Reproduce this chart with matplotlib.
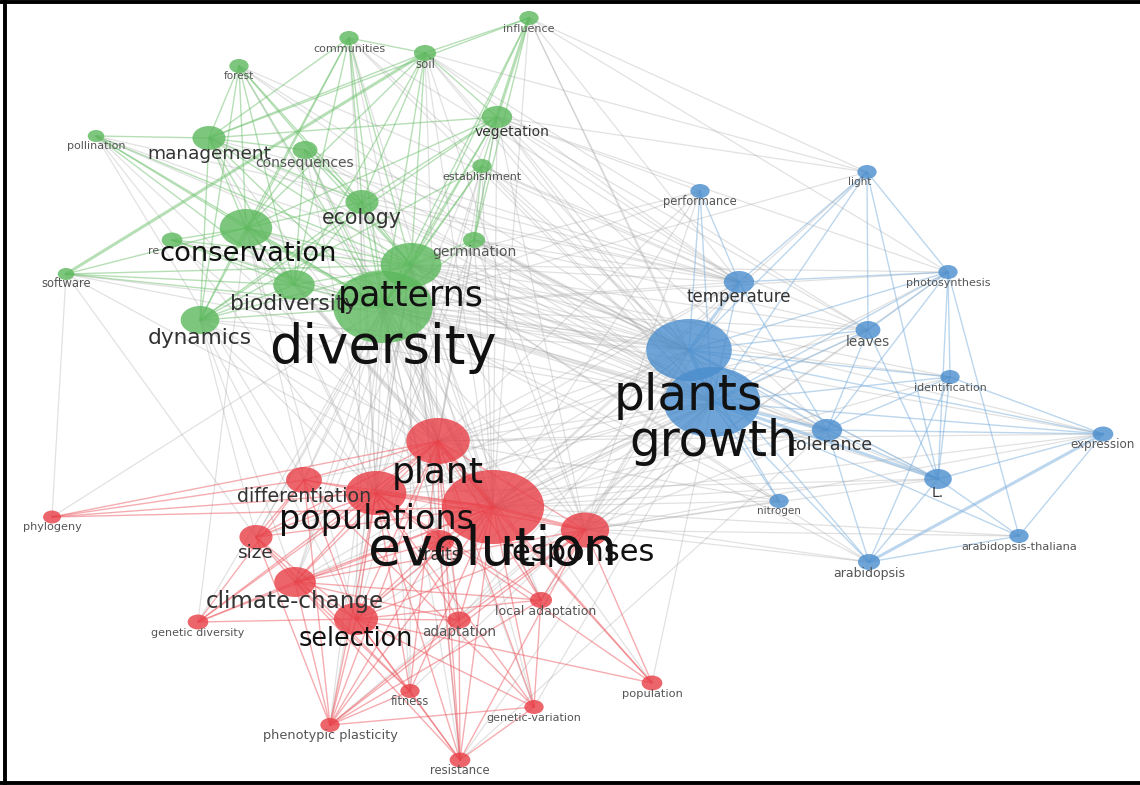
import math
import matplotlib
matplotlib.use("Agg")
import matplotlib.pyplot as plt
from matplotlib.patches import Ellipse
from matplotlib.lines import Line2D
from matplotlib.transforms import Bbox, TransformedBbox

# Keyword co-occurrence map: keyword, cluster, map position, occurrences
green_terms = ["influence", "communities", "soil", "forest", "vegetation", "pollination",
               "management", "consequences", "establishment", "ecology", "conservation",
               "research", "germination", "software", "patterns", "biodiversity",
               "diversity", "dynamics"]
green_x = [529, 349, 425, 239, 497, 96, 209, 305, 482, 362, 246, 172, 474, 66, 411, 294, 383, 200]
green_y = [18, 38, 53, 66, 117, 136, 138, 150, 166, 202, 228, 240, 240, 274, 265, 285, 307, 320]
green_occ = [49, 49, 64, 49, 121, 36, 144, 81, 49, 144, 361, 56, 64, 36, 484, 225, 1296, 196]

blue_terms = ["performance", "light", "temperature", "photosynthesis", "leaves", "plants",
              "growth", "identification", "tolerance", "expression", "L.", "nitrogen",
              "arabidopsis-thaliana", "arabidopsis"]
blue_x = [700, 867, 739, 948, 868, 689, 712, 950, 827, 1103, 938, 779, 1019, 869]
blue_y = [191, 172, 282, 272, 330, 350, 402, 377, 430, 434, 479, 501, 536, 562]
blue_occ = [49, 49, 121, 49, 81, 961, 1225, 49, 121, 56, 100, 49, 49, 64]

red_terms = ["plant", "differentiation", "phylogeny", "populations", "evolution", "responses",
             "size", "traits", "climate-change", "local adaptation", "genetic diversity",
             "selection", "adaptation", "population", "fitness", "genetic-variation",
             "phenotypic plasticity", "resistance"]
red_x = [438, 304, 52, 376, 493, 585, 256, 439, 295, 541, 198, 356, 459, 652, 410, 534, 330, 460]
red_y = [441, 480, 517, 493, 507, 530, 537, 541, 582, 600, 622, 619, 620, 683, 691, 707, 725, 760]
red_occ = [529, 169, 42, 484, 1369, 306, 144, 121, 225, 64, 56, 256, 72, 56, 49, 49, 49, 56]

# co-occurrence links
links = {
    "influence": ["vegetation", "patterns", "diversity", "management", "soil", "plants", "growth",
                  "evolution", "germination", "temperature", "photosynthesis", "light"],
    "communities": ["diversity", "patterns", "conservation", "ecology", "biodiversity", "soil",
                    "dynamics", "management", "plants", "growth", "evolution", "plant", "populations",
                    "temperature"],
    "soil": ["diversity", "patterns", "ecology", "vegetation", "management", "conservation",
             "biodiversity", "software", "plants", "growth", "plant", "evolution", "temperature",
             "responses", "leaves", "light"],
    "forest": ["conservation", "management", "ecology", "diversity", "biodiversity", "dynamics",
               "patterns", "plants", "growth", "evolution", "temperature"],
    "vegetation": ["diversity", "patterns", "dynamics", "conservation", "ecology", "management",
                   "establishment", "germination", "plants", "growth", "temperature", "plant",
                   "evolution", "responses", "performance", "climate-change", "photosynthesis",
                   "leaves", "tolerance", "light"],
    "pollination": ["management", "conservation", "biodiversity", "diversity", "patterns", "plants",
                    "evolution", "populations", "growth", "temperature", "differentiation"],
    "management": ["conservation", "diversity", "biodiversity", "ecology", "patterns", "consequences",
                   "dynamics", "plants", "growth", "evolution", "populations", "temperature"],
    "consequences": ["diversity", "biodiversity", "conservation", "patterns", "ecology", "plants",
                     "growth", "evolution", "plant", "populations", "temperature"],
    "establishment": ["diversity", "patterns", "germination", "dynamics", "plants", "growth",
                      "evolution", "plant", "populations", "selection", "temperature", "leaves"],
    "ecology": ["diversity", "patterns", "conservation", "biodiversity", "dynamics", "plants", "growth",
                "evolution", "plant", "populations", "selection", "temperature"],
    "conservation": ["diversity", "biodiversity", "patterns", "dynamics", "research", "plants", "growth",
                     "evolution", "populations", "plant", "genetic diversity", "selection",
                     "differentiation", "tolerance"],
    "research": ["diversity", "biodiversity", "patterns", "plants", "growth", "evolution"],
    "germination": ["diversity", "patterns", "plants", "growth", "temperature", "plant", "evolution",
                    "populations", "responses", "leaves", "tolerance", "L."],
    "software": ["conservation", "diversity", "patterns", "biodiversity", "plants", "evolution",
                 "phylogeny", "growth", "size"],
    "biodiversity": ["diversity", "patterns", "dynamics", "plants", "growth", "evolution", "plant"],
    "dynamics": ["diversity", "patterns", "plants", "growth", "evolution", "plant", "populations",
                 "selection", "climate-change", "size"],
    "patterns": ["diversity", "plants", "growth", "evolution", "plant", "populations", "selection",
                 "climate-change", "traits", "responses", "local adaptation", "adaptation",
                 "genetic-variation", "temperature", "performance", "leaves", "tolerance",
                 "differentiation", "size", "fitness", "resistance", "phenotypic plasticity",
                 "photosynthesis", "L.", "expression", "identification", "nitrogen", "arabidopsis"],
    "diversity": ["plants", "growth", "evolution", "plant", "populations", "selection", "climate-change",
                  "size", "differentiation", "genetic diversity", "phylogeny", "adaptation",
                  "local adaptation", "fitness", "genetic-variation", "phenotypic plasticity",
                  "resistance", "traits", "responses", "temperature", "performance", "light", "leaves",
                  "photosynthesis", "tolerance", "identification", "L.", "nitrogen", "population",
                  "expression", "arabidopsis"],
    "performance": ["plants", "growth", "temperature", "evolution", "plant", "responses"],
    "light": ["plants", "growth", "leaves", "photosynthesis", "temperature", "L.", "evolution"],
    "temperature": ["plants", "growth", "evolution", "responses", "plant", "populations", "tolerance",
                    "photosynthesis"],
    "photosynthesis": ["plants", "growth", "leaves", "identification", "arabidopsis-thaliana",
                       "tolerance", "L.", "evolution", "responses"],
    "leaves": ["plants", "growth", "L.", "tolerance", "evolution", "responses", "plant"],
    "plants": ["growth", "tolerance", "L.", "nitrogen", "identification", "expression", "arabidopsis",
               "evolution", "plant", "populations", "responses", "selection", "adaptation",
               "climate-change", "local adaptation"],
    "growth": ["tolerance", "L.", "nitrogen", "arabidopsis", "expression", "arabidopsis-thaliana",
               "identification", "evolution", "plant", "responses", "populations", "selection",
               "climate-change", "adaptation", "local adaptation", "population", "genetic-variation",
               "fitness", "phenotypic plasticity", "resistance", "size", "differentiation", "traits"],
    "identification": ["L.", "arabidopsis", "tolerance", "expression", "evolution"],
    "tolerance": ["L.", "arabidopsis", "expression", "evolution", "populations", "plant", "responses",
                  "resistance"],
    "expression": ["arabidopsis", "arabidopsis-thaliana", "evolution", "plant", "responses", "L."],
    "L.": ["arabidopsis-thaliana", "arabidopsis", "evolution", "responses", "populations"],
    "nitrogen": ["evolution", "responses", "plant"],
    "arabidopsis": ["evolution", "responses", "arabidopsis-thaliana"],
    "arabidopsis-thaliana": ["evolution", "responses"],
    "phylogeny": ["evolution", "populations", "plant", "differentiation"],
    "differentiation": ["evolution", "populations", "plant", "selection", "size", "genetic-variation",
                        "phenotypic plasticity", "genetic diversity"],
    "size": ["evolution", "populations", "climate-change", "selection", "plant", "phenotypic plasticity",
             "fitness"],
    "climate-change": ["evolution", "populations", "plant", "selection", "responses", "local adaptation",
                       "adaptation", "genetic diversity", "phenotypic plasticity", "fitness",
                       "resistance", "traits"],
    "genetic diversity": ["populations", "evolution", "selection", "plant"],
    "selection": ["evolution", "populations", "plant", "adaptation", "local adaptation", "responses",
                  "traits", "phenotypic plasticity", "fitness", "resistance", "genetic-variation",
                  "population"],
    "adaptation": ["evolution", "populations", "plant", "responses", "phenotypic plasticity",
                   "resistance"],
    "local adaptation": ["evolution", "populations", "plant", "responses", "genetic-variation",
                         "phenotypic plasticity"],
    "population": ["evolution", "responses", "plant", "populations"],
    "fitness": ["evolution", "populations", "plant", "resistance", "phenotypic plasticity"],
    "genetic-variation": ["evolution", "populations", "plant", "phenotypic plasticity", "resistance"],
    "phenotypic plasticity": ["evolution", "populations", "plant", "responses", "traits"],
    "resistance": ["evolution", "populations", "plant", "responses", "traits"],
    "traits": ["evolution", "plant", "populations"],
    "responses": ["evolution", "plant", "populations"],
    "plant": ["evolution", "populations"],
    "populations": ["evolution"],
}

strong_links = [("plants", "growth"), ("diversity", "patterns"), ("plant", "evolution"),
                ("populations", "evolution"), ("growth", "tolerance"), ("growth", "L."),
                ("plants", "temperature"), ("conservation", "diversity"), ("software", "soil"),
                ("influence", "vegetation"), ("expression", "arabidopsis"), ("evolution", "responses")]

# label font sizes (pt)
label_size = {
    "influence": 8, "communities": 8, "soil": 8.5, "forest": 7.5, "vegetation": 10,
    "pollination": 8, "management": 13.3, "consequences": 10, "establishment": 8, "ecology": 14.8,
    "conservation": 19.7, "research": 8, "germination": 10, "software": 8.3, "patterns": 25,
    "biodiversity": 15.7, "diversity": 38, "dynamics": 15.6,
    "performance": 8.3, "light": 7.5, "temperature": 12, "photosynthesis": 8, "leaves": 9.8,
    "plants": 35, "growth": 35, "identification": 7.9, "tolerance": 12.6, "expression": 8.6,
    "L.": 10, "nitrogen": 7.5, "arabidopsis-thaliana": 8.2, "arabidopsis": 9,
    "plant": 26, "differentiation": 13.7, "phylogeny": 8.1, "populations": 24, "evolution": 38.6,
    "responses": 22, "size": 13.3, "traits": 12, "climate-change": 16.6, "local adaptation": 9,
    "genetic diversity": 8, "selection": 18.4, "adaptation": 9.8, "population": 8.2, "fitness": 8.3,
    "genetic-variation": 8, "phenotypic plasticity": 9.3, "resistance": 8.4,
}
label_shift = {"vegetation": (15, 0), "light": (-7, 0), "tolerance": (4, 0), "growth": (2, 0),
               "plants": (-1, 10), "patterns": (0, 5), "plant": (0, 4), "responses": (-8, 0),
               "local adaptation": (5, 0), "conservation": (2, 2)}
dark_labels = {"vegetation", "L."}

colors = {"green": "#5cb85c", "blue": "#4a8dcd", "red": "#e83e46"}
edge_colors = {"green": "#6fc06f", "blue": "#7aaedc", "red": "#ec5b62"}
SX = 1.38   # map is drawn wider than tall

nodes = {}
for cl, terms, xs, ys, occ in [("green", green_terms, green_x, green_y, green_occ),
                               ("blue", blue_terms, blue_x, blue_y, blue_occ),
                               ("red", red_terms, red_x, red_y, red_occ)]:
    for t, x, y, o in zip(terms, xs, ys, occ):
        nodes[t] = dict(x=x, y=y, r=math.sqrt(o), cluster=cl)

fig = plt.figure(figsize=(11.4, 7.85), dpi=100)
ax = fig.add_axes([0, 0, 1, 1])
ax.set_xlim(0, 1140)
ax.set_ylim(785, 0)
ax.axis("off")

strong = set(frozenset(p) for p in strong_links)

# grey links between clusters first, then the coloured ones
grey, coloured = [], []
for a, targets in links.items():
    for b in targets:
        na, nb = nodes[a], nodes[b]
        seg = ([na["x"], nb["x"]], [na["y"], nb["y"]])
        w = 2.2 if frozenset((a, b)) in strong else 1.0
        if na["cluster"] == nb["cluster"]:
            coloured.append((seg, w, edge_colors[na["cluster"]]))
        else:
            grey.append((seg, w))

for seg, w in grey:
    ax.plot(*seg, color="#a4a4a4", lw=w * 0.9, alpha=0.32, zorder=1, solid_capstyle="round")
for seg, w, c in coloured:
    ax.plot(*seg, color=c, lw=w * 1.0, alpha=0.5, zorder=2, solid_capstyle="round")

for t, n in nodes.items():
    ax.add_patch(Ellipse((n["x"], n["y"]), 2 * n["r"] * SX, 2 * n["r"],
                         facecolor=colors[n["cluster"]], edgecolor="none", alpha=0.8, zorder=3))

# labels, small ones first so the big ones sit on top
for t in sorted(nodes, key=lambda k: label_size[k]):
    n = nodes[t]
    fs = label_size[t]
    dx, dy = label_shift.get(t, (0, 0))
    base = n["y"] + n["r"] + 3 + 0.33 * fs * 100 / 72 + dy
    if fs >= 18:
        col = "#111111"
    elif fs >= 10.5 or t in dark_labels:
        col = "#333333"
    else:
        col = "#555555"
    txt = ax.text(n["x"] + dx, base, t, fontsize=fs, color=col, ha="center", va="baseline",
                  family="DejaVu Sans", zorder=5)
    if t == "research":
        # hidden behind the "conservation" label
        txt.set_clip_box(TransformedBbox(Bbox([[0, 0], [160, 785]]), ax.transData))
        txt.set_clip_on(True)

# frame
ax.add_line(Line2D([5, 5], [0, 785], color="black", lw=2.8, zorder=10))
ax.add_line(Line2D([0, 1140], [1.5, 1.5], color="black", lw=2.8, zorder=10))
ax.add_line(Line2D([0, 1140], [783, 783], color="black", lw=2.8, zorder=10))

fig.savefig("out.png", dpi=100, facecolor="white")
